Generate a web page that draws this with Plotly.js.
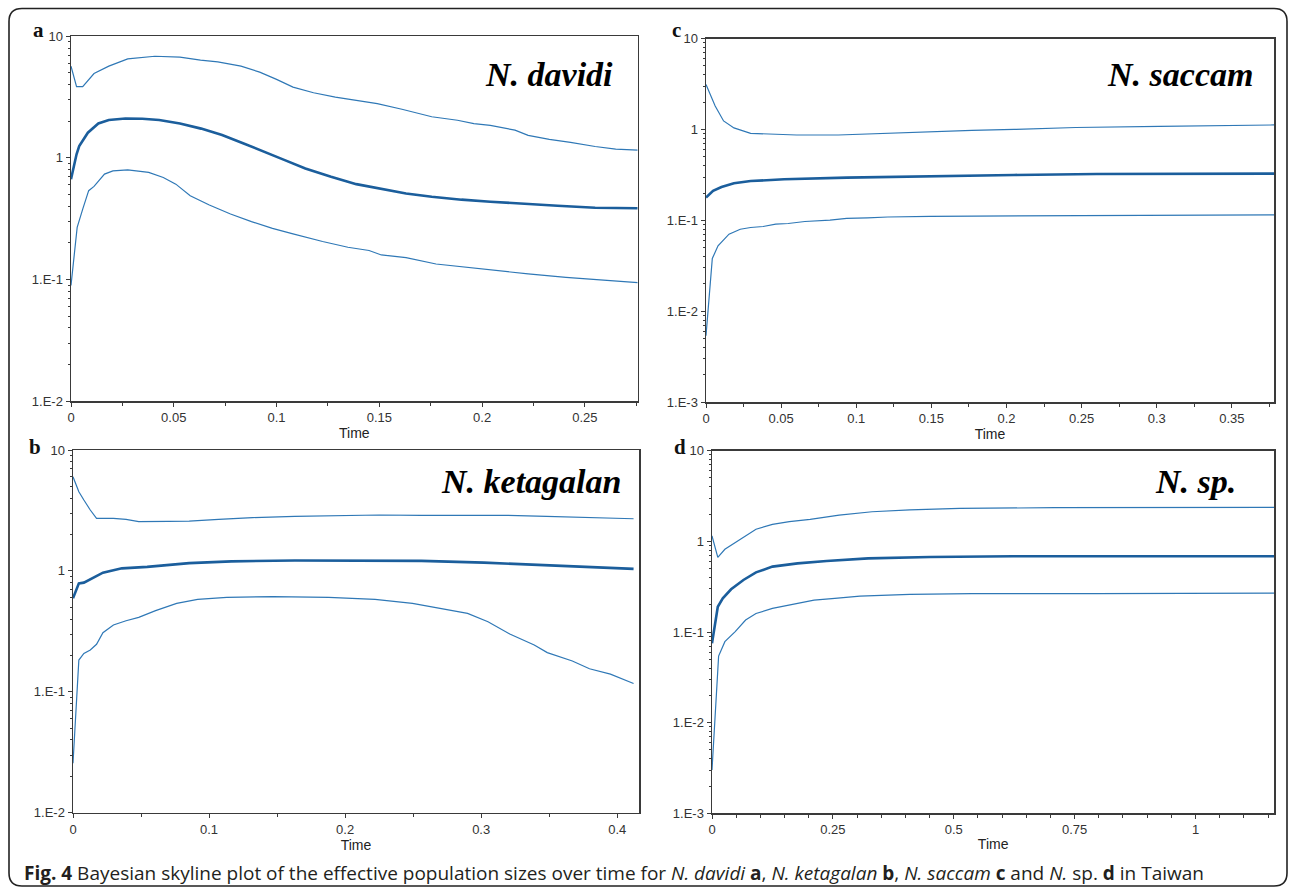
<!DOCTYPE html>
<html>
<head>
<meta charset="utf-8">
<script src="https://cdn.plot.ly/plotly-3.0.1.min.js"></script>
<style>
html,body{margin:0;padding:0;background:#fff;}
#chart{width:1290px;height:890px;}
</style>
</head>
<body>
<div id="chart"></div>
<script>
// ---------- Data ----------
// Panel a: N. davidi
const davidiUpperX = [0, 0.0027, 0.0057, 0.0112, 0.0184, 0.0276, 0.0408, 0.053, 0.063, 0.0714, 0.0827, 0.0918, 0.1, 0.108, 0.118, 0.1286, 0.1388, 0.149, 0.161, 0.169, 0.1755, 0.188, 0.196, 0.204, 0.216, 0.2224, 0.2327, 0.243, 0.255, 0.265, 0.2757];
const davidiUpperY = [5.68, 3.85, 3.85, 4.94, 5.68, 6.52, 6.85, 6.73, 6.36, 6.17, 5.68, 5.07, 4.42, 3.82, 3.43, 3.16, 2.97, 2.79, 2.51, 2.32, 2.18, 2.04, 1.91, 1.85, 1.69, 1.53, 1.42, 1.34, 1.24, 1.18, 1.16];
const davidiMedX = [0, 0.0027, 0.004, 0.0082, 0.0133, 0.0184, 0.0265, 0.0347, 0.0429, 0.053, 0.0633, 0.0735, 0.0837, 0.0939, 0.104, 0.114, 0.1265, 0.1388, 0.151, 0.163, 0.1755, 0.19, 0.204, 0.2204, 0.2367, 0.255, 0.2757];
const davidiMedY = [0.668, 1.07, 1.25, 1.61, 1.92, 2.05, 2.11, 2.10, 2.05, 1.92, 1.74, 1.54, 1.32, 1.13, 0.958, 0.818, 0.699, 0.608, 0.553, 0.51, 0.479, 0.453, 0.436, 0.417, 0.404, 0.389, 0.385];
const davidiLowerX = [0, 0.003, 0.0057, 0.0086, 0.0112, 0.0163, 0.0204, 0.0276, 0.0378, 0.0449, 0.051, 0.058, 0.0673, 0.0776, 0.0878, 0.098, 0.108, 0.1224, 0.1347, 0.145, 0.151, 0.163, 0.1776, 0.192, 0.208, 0.2224, 0.2408, 0.2612, 0.2757];
const davidiLowerY = [0.0893, 0.268, 0.379, 0.537, 0.582, 0.735, 0.782, 0.798, 0.759, 0.69, 0.608, 0.488, 0.409, 0.345, 0.299, 0.263, 0.237, 0.205, 0.184, 0.173, 0.159, 0.151, 0.134, 0.126, 0.119, 0.111, 0.104, 0.098, 0.094];

// Panel b: N. ketagalan
const ketaUpperX = [0, 0.0043, 0.008, 0.0127, 0.0173, 0.0297, 0.039, 0.0483, 0.07, 0.0854, 0.107, 0.132, 0.163, 0.194, 0.225, 0.256, 0.3176, 0.348, 0.379, 0.412];
const ketaUpperY = [6.01, 4.52, 3.86, 3.19, 2.72, 2.72, 2.67, 2.56, 2.57, 2.58, 2.67, 2.76, 2.83, 2.86, 2.90, 2.88, 2.88, 2.83, 2.76, 2.70];
const ketaMedX = [0, 0.0043, 0.008, 0.0142, 0.022, 0.0359, 0.0545, 0.0854, 0.1164, 0.163, 0.209, 0.256, 0.302, 0.348, 0.379, 0.412];
const ketaMedY = [0.593, 0.789, 0.8, 0.869, 0.966, 1.05, 1.08, 1.16, 1.2, 1.22, 1.22, 1.21, 1.17, 1.12, 1.08, 1.04];
const ketaLowerX = [0, 0.0043, 0.008, 0.0127, 0.0173, 0.022, 0.0297, 0.039, 0.0483, 0.0607, 0.0762, 0.0916, 0.113, 0.147, 0.188, 0.222, 0.2495, 0.271, 0.29, 0.305, 0.321, 0.339, 0.3486, 0.367, 0.3796, 0.395, 0.412];
const ketaLowerY = [0.0256, 0.183, 0.208, 0.222, 0.247, 0.308, 0.357, 0.387, 0.413, 0.469, 0.539, 0.582, 0.604, 0.612, 0.604, 0.582, 0.539, 0.49, 0.445, 0.38, 0.301, 0.244, 0.211, 0.18, 0.155, 0.14, 0.117];

// Panel c: N. saccam
const saccamUpperX = [0, 0.0061, 0.0117, 0.0186, 0.0297, 0.0436, 0.0603, 0.088, 0.116, 0.135, 0.177, 0.205, 0.246, 0.302, 0.3436, 0.378];
const saccamUpperY = [3.13, 1.81, 1.24, 1.04, 0.906, 0.883, 0.869, 0.869, 0.9, 0.937, 0.977, 1.0, 1.05, 1.08, 1.11, 1.12];
const saccamMedX = [0, 0.0047, 0.0103, 0.0186, 0.0297, 0.052, 0.0936, 0.149, 0.205, 0.26, 0.316, 0.378];
const saccamMedY = [0.178, 0.211, 0.233, 0.256, 0.271, 0.283, 0.295, 0.308, 0.316, 0.324, 0.327, 0.327];
const saccamLowerX = [0, 0.0042, 0.008, 0.0153, 0.0228, 0.0297, 0.038, 0.0464, 0.0547, 0.0658, 0.0825, 0.0936, 0.1075, 0.121, 0.149, 0.205, 0.288, 0.378];
const saccamLowerY = [0.0054, 0.0381, 0.0525, 0.0706, 0.08, 0.0835, 0.0857, 0.0908, 0.0924, 0.0972, 0.1005, 0.105, 0.1066, 0.109, 0.111, 0.112, 0.113, 0.115];

// Panel d: N. sp.
const spUpperX = [0, 0.012, 0.0266, 0.0567, 0.091, 0.125, 0.16, 0.203, 0.263, 0.331, 0.409, 0.512, 0.709, 1.163];
const spUpperY = [1.15, 0.667, 0.817, 1.03, 1.36, 1.54, 1.65, 1.75, 1.95, 2.12, 2.22, 2.31, 2.35, 2.37];
const spMedX = [0, 0.012, 0.0223, 0.0395, 0.065, 0.091, 0.125, 0.177, 0.237, 0.323, 0.451, 0.623, 1.163];
const spMedY = [0.075, 0.19, 0.235, 0.296, 0.375, 0.455, 0.526, 0.572, 0.607, 0.649, 0.671, 0.684, 0.684];
const spLowerX = [0, 0.0137, 0.0266, 0.048, 0.0695, 0.091, 0.125, 0.168, 0.211, 0.254, 0.306, 0.409, 0.537, 0.795, 1.163];
const spLowerY = [0.003, 0.0543, 0.0782, 0.101, 0.1356, 0.16, 0.182, 0.204, 0.225, 0.235, 0.249, 0.26, 0.265, 0.265, 0.269];

const yTickVals = [10, 1, 0.1, 0.01, 0.001];
const yTickText = ["10", "1", "1.E-1", "1.E-2", "1.E-3"];
const panelLetters = ["a", "b", "c", "d"];
const speciesNames = ["N. davidi", "N. ketagalan", "N. saccam", "N. sp."];
const xAxisTitle = "Time";
const captionHtml = "<b>Fig. 4</b> Bayesian skyline plot of the effective population sizes over time for <i>N. davidi</i> <b>a</b>, <i>N. ketagalan</i> <b>b</b>, <i>N. saccam</i> <b>c</b> and <i>N.</i> sp. <b>d</b> in Taiwan";

// ---------- Layout helpers ----------
const W = 1290, H = 890;
const px = v => v / W;
const py = v => 1 - v / H;

const boundColor = "#2f78b6";
const medColor = "#1b5e9c";
const axisColor = "#3a3a3a";
const tickFont = {family: "'Liberation Sans Narrow', 'Arial Narrow', 'Liberation Sans', Arial, sans-serif", size: 13, color: "#333"};

function lines(xa, ya, U, M, L) {
  return [
    {x: U[0], y: U[1], xaxis: xa, yaxis: ya, type: "scatter", mode: "lines", line: {color: boundColor, width: 1.2}, hoverinfo: "skip"},
    {x: M[0], y: M[1], xaxis: xa, yaxis: ya, type: "scatter", mode: "lines", line: {color: medColor, width: 2.6}, hoverinfo: "skip"},
    {x: L[0], y: L[1], xaxis: xa, yaxis: ya, type: "scatter", mode: "lines", line: {color: boundColor, width: 1.2}, hoverinfo: "skip"}
  ];
}

const data = [].concat(
  lines("x", "y", [davidiUpperX, davidiUpperY], [davidiMedX, davidiMedY], [davidiLowerX, davidiLowerY]),
  lines("x2", "y2", [ketaUpperX, ketaUpperY], [ketaMedX, ketaMedY], [ketaLowerX, ketaLowerY]),
  lines("x3", "y3", [saccamUpperX, saccamUpperY], [saccamMedX, saccamMedY], [saccamLowerX, saccamLowerY]),
  lines("x4", "y4", [spUpperX, spUpperY], [spMedX, spMedY], [spLowerX, spLowerY])
);

function xAxis(domain, range, dtick, minorDtick, anchor) {
  return {
    domain: domain, range: range, anchor: anchor, dtick: dtick, tick0: 0,
    showgrid: false, zeroline: false, showline: true, mirror: true,
    linecolor: axisColor, linewidth: 1.5,
    ticks: "outside", ticklen: 4, tickwidth: 1, tickcolor: axisColor,
    minor: {dtick: minorDtick, tick0: 0, ticks: "outside", ticklen: 3, tickwidth: 1, tickcolor: axisColor, showgrid: false},
    tickfont: tickFont,
    title: {text: xAxisTitle, font: {family: tickFont.family, size: 14, color: "#222"}, standoff: 3},
    automargin: false, fixedrange: true
  };
}
function yAxis(domain, range, anchor) {
  return {
    domain: domain, type: "log", range: range, anchor: anchor,
    tickmode: "array", tickvals: yTickVals, ticktext: yTickText,
    showgrid: false, zeroline: false, showline: true, mirror: true,
    linecolor: axisColor, linewidth: 1.5,
    ticks: "outside", ticklen: 4, tickwidth: 1, tickcolor: axisColor,
    minor: {dtick: "D1", ticks: "outside", ticklen: 2, tickwidth: 1, tickcolor: axisColor, showgrid: false},
    tickfont: tickFont, ticklabelstandoff: 0,
    automargin: false, fixedrange: true
  };
}

// plot-area pixel boxes [left, right, top, bottom]
const boxA = [71, 637.7, 36.3, 401];
const boxB = [73, 639, 450, 812.7];
const boxC = [706, 1274, 38.5, 402.3];
const boxD = [712, 1274.3, 450.7, 813.3];
const dx = b => [px(b[0]), px(b[1])];
const dy = b => [py(b[3]), py(b[2])];

const layout = {
  width: W, height: H,
  margin: {l: 0, r: 0, t: 0, b: 0},
  paper_bgcolor: "#fff", plot_bgcolor: "#fff",
  showlegend: false,
  xaxis:  xAxis(dx(boxA), [0, 0.2757], 0.05, 0.025, "y"),
  yaxis:  yAxis(dy(boxA), [-2, 1], "x"),
  xaxis2: xAxis(dx(boxB), [0, 0.416], 0.1, 0.05, "y2"),
  yaxis2: yAxis(dy(boxB), [-2, 1], "x2"),
  xaxis3: xAxis(dx(boxC), [0, 0.378], 0.05, 0.025, "y3"),
  yaxis3: yAxis(dy(boxC), [-3, 1], "x3"),
  xaxis4: xAxis(dx(boxD), [0, 1.163], 0.25, 0.05, "y4"),
  yaxis4: yAxis(dy(boxD), [-3, 1], "x4"),
  annotations: [],
  shapes: []
};

const serif = "'Liberation Serif', 'Times New Roman', Times, serif";
// panel letters
[[38, 30], [35, 447], [676.5, 30], [679.5, 447]].forEach((p, i) => {
  layout.annotations.push({xref: "paper", yref: "paper", x: px(p[0]), y: py(p[1]), xanchor: "center", yanchor: "middle",
    text: "<b>" + panelLetters[i] + "</b>", showarrow: false, font: {family: serif, size: 21, color: "#111"}});
});
// species names (right-aligned, vertical middle)
[[615, 74], [623, 481], [1255, 74], [1238, 481]].forEach((p, i) => {
  layout.annotations.push({xref: "paper", yref: "paper", x: px(p[0]), y: py(p[1]), xanchor: "right", yanchor: "middle",
    text: "<b><i>" + speciesNames[i] + "</i></b>", showarrow: false, font: {family: serif, size: 34, color: "#000"}});
});
// caption
layout.annotations.push({xref: "paper", yref: "paper", x: px(22), y: py(873), xanchor: "left", yanchor: "middle",
  text: captionHtml, showarrow: false, font: {family: "'Open Sans', 'Noto Sans', sans-serif", size: 19, color: "#231f20"}});

// rounded outer frame
function roundRect(x0, y0, x1, y1, r) {
  const P = (x, y) => px(x) + "," + py(y);
  return "M" + P(x0 + r, y0) + " L" + P(x1 - r, y0) + " Q" + P(x1, y0) + " " + P(x1, y0 + r) +
    " L" + P(x1, y1 - r) + " Q" + P(x1, y1) + " " + P(x1 - r, y1) +
    " L" + P(x0 + r, y1) + " Q" + P(x0, y1) + " " + P(x0, y1 - r) +
    " L" + P(x0, y0 + r) + " Q" + P(x0, y0) + " " + P(x0 + r, y0) + " Z";
}
layout.shapes.push({type: "path", xref: "paper", yref: "paper", path: roundRect(9, 8.5, 1287, 886, 13),
  line: {color: "#222", width: 1.6}, fillcolor: "rgba(0,0,0,0)", layer: "below"});

Plotly.newPlot("chart", data, layout, {staticPlot: true, displayModeBar: false});
</script>
</body>
</html>
